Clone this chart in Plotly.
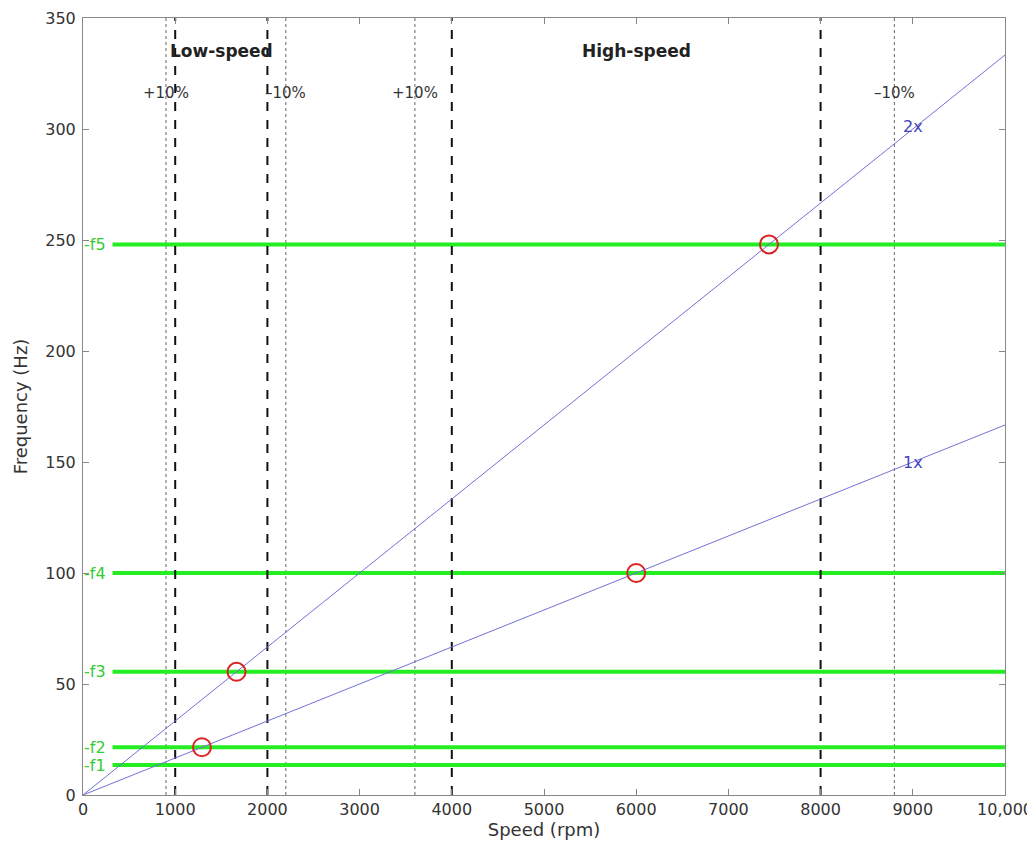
import plotly.graph_objects as go

# Data
speed_rpm = [0, 10000]
order_1x = [s / 60 for s in speed_rpm]
order_2x = [s / 30 for s in speed_rpm]
res_names = ["f1", "f2", "f3", "f4", "f5"]
res_freqs = [13.5, 21.5, 55.5, 100, 248]
res_span = [320, 10000]
cross_rpm = [1290, 1665, 6000, 7440]
cross_hz = [21.5, 55.5, 100, 248]
bound_rpm = [1000, 2000, 4000, 8000]
margin_rpm = [900, 2200, 3600, 8800]
margin_text = ["+10%", "\u201310%", "+10%", "\u201310%"]
region_names = ["Low-speed", "High-speed"]
region_rpm = [1500, 6000]
x_ticks = [0, 1000, 2000, 3000, 4000, 5000, 6000, 7000, 8000, 9000, 10000]
x_ticktext = ["0", "1000", "2000", "3000", "4000", "5000", "6000", "7000", "8000", "9000", "10,000"]
y_ticks = [0, 50, 100, 150, 200, 250, 300, 350]

fig = go.Figure()

# dotted +-10% lines
for x in margin_rpm:
    fig.add_trace(go.Scatter(x=[x, x], y=[0, 350], mode="lines",
                             line=dict(color="#666666", width=1, dash="dot"),
                             showlegend=False, hoverinfo="skip"))

# green resonance lines
for f in res_freqs:
    fig.add_trace(go.Scatter(x=res_span, y=[f, f], mode="lines",
                             line=dict(color="#22ee22", width=4),
                             showlegend=False, hoverinfo="skip"))

# dashed boundary lines
for x in bound_rpm:
    fig.add_trace(go.Scatter(x=[x, x], y=[0, 350], mode="lines",
                             line=dict(color="#111111", width=2, dash="dash"),
                             showlegend=False, hoverinfo="skip"))

# order lines
fig.add_trace(go.Scatter(x=speed_rpm, y=order_1x, mode="lines",
                         line=dict(color="#7272d6", width=1), showlegend=False))
fig.add_trace(go.Scatter(x=speed_rpm, y=order_2x, mode="lines",
                         line=dict(color="#7272d6", width=1), showlegend=False))

# crossing circles
fig.add_trace(go.Scatter(x=cross_rpm, y=cross_hz, mode="markers",
                         marker=dict(symbol="circle-open", size=18, color="#dd2222",
                                     line=dict(width=2, color="#dd2222")),
                         showlegend=False))

font_fam = "DejaVu Sans, Liberation Sans, Arial, sans-serif"

# resonance labels
for name, f in zip(res_names, res_freqs):
    fig.add_annotation(x=0, y=f, text="-" + name, showarrow=False, xanchor="left",
                       xshift=-1, font=dict(color="#33cc33", size=16, family=font_fam))

# region labels
for name, x in zip(region_names, region_rpm):
    fig.add_annotation(x=x, y=335, text="<b>" + name + "</b>", showarrow=False,
                       font=dict(color="#222222", size=17, family=font_fam))

# +-10% labels
for x, t in zip(margin_rpm, margin_text):
    fig.add_annotation(x=x, y=316, text=t, showarrow=False,
                       font=dict(color="#333333", size=15, family=font_fam))

fig.add_annotation(x=9000, y=301, text="2x", showarrow=False,
                   font=dict(color="#4444bb", size=16, family=font_fam))
fig.add_annotation(x=9000, y=150, text="1x", showarrow=False,
                   font=dict(color="#4444bb", size=16, family=font_fam))

axis_common = dict(showgrid=False, zeroline=False, showline=True, linecolor="#888888",
                   linewidth=1, mirror="ticks", ticks="inside", ticklen=6, automargin=False,
                   ticklabeloverflow="allow",
                   tickcolor="#888888", tickfont=dict(size=16, color="#333333", family=font_fam))

fig.update_xaxes(range=[0, 10000], tickvals=x_ticks, ticktext=x_ticktext,
                 title=dict(text="Speed (rpm)", font=dict(size=18, color="#333333", family=font_fam),
                            standoff=4),
                 **axis_common)
fig.update_yaxes(range=[0, 350], tickvals=y_ticks, ticklabelstandoff=3,
                 title=dict(text="Frequency (Hz)", font=dict(size=18, color="#333333", family=font_fam),
                            standoff=12),
                 **axis_common)

fig.update_layout(width=1027, height=844, plot_bgcolor="white", paper_bgcolor="white",
                  margin=dict(l=75, r=30, t=10, b=57), showlegend=False)

fig.write_html("out.html")
